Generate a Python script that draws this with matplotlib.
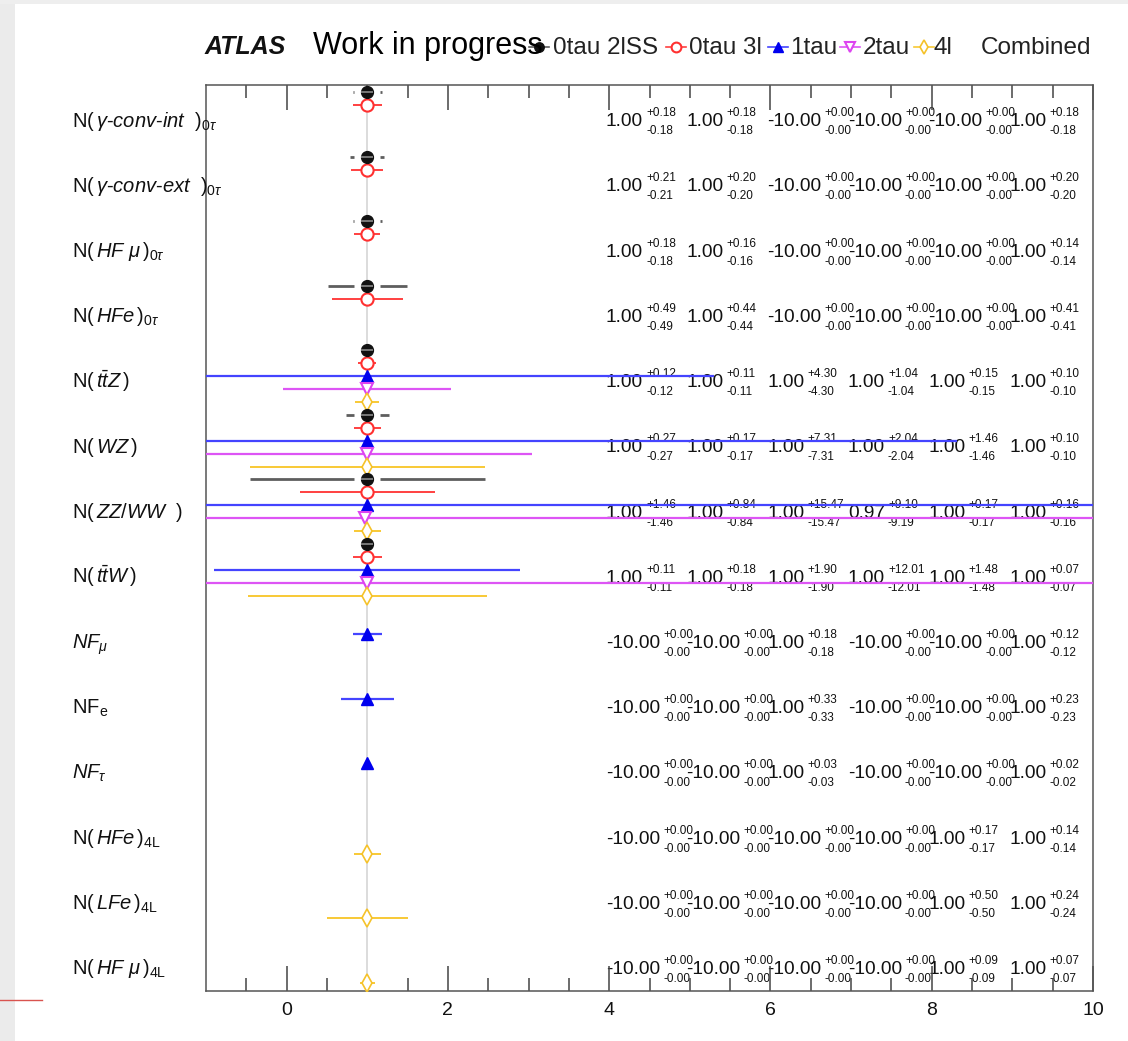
import matplotlib
matplotlib.use("Agg")
import matplotlib.pyplot as plt
from matplotlib.transforms import offset_copy, blended_transform_factory
from matplotlib.lines import Line2D
from matplotlib.patches import Rectangle
import numpy as np

plt.rcParams['font.family'] = ['Liberation Sans', 'DejaVu Sans']
plt.rcParams['mathtext.fontset'] = 'custom'
plt.rcParams['mathtext.rm'] = 'Liberation Sans'
plt.rcParams['mathtext.it'] = 'Liberation Sans:italic'
plt.rcParams['mathtext.bf'] = 'Liberation Sans:bold'
plt.rcParams['mathtext.sf'] = 'Liberation Sans'

# ---------------- data ----------------
parameters = [
    r"$\mathrm{N}(\,\mathit{\gamma}\text{-}\mathit{conv}\text{-}\mathit{int}\ \ )_{0\tau}$",
    r"$\mathrm{N}(\,\mathit{\gamma}\text{-}\mathit{conv}\text{-}\mathit{ext}\ \ )_{0\tau}$",
    r"$\mathrm{N}(\,\mathit{HF\ \mu}\,)_{0\tau}$",
    r"$\mathrm{N}(\,\mathit{HFe}\,)_{0\tau}$",
    r"$\mathrm{N}(\,\mathit{t\bar{t}Z}\,)$",
    r"$\mathrm{N}(\,\mathit{WZ}\,)$",
    r"$\mathrm{N}(\,\mathit{ZZ/WW}\ \ )$",
    r"$\mathrm{N}(\,\mathit{t\bar{t}W}\,)$",
    r"$\mathit{NF}_{\mu}$",
    r"$\mathrm{NF}_{\mathrm{e}}$",
    r"$\mathit{NF}_{\tau}$",
    r"$\mathrm{N}(\,\mathit{HFe}\,)_{\mathrm{4L}}$",
    r"$\mathrm{N}(\,\mathit{LFe}\,)_{\mathrm{4L}}$",
    r"$\mathrm{N}(\,\mathit{HF\ \mu}\,)_{\mathrm{4L}}$",
]

channels = ["0tau 2lSS", "0tau 3l", "1tau", "2tau", "4l", "Combined"]

# fitted values (-10 = parameter not floated in that fit)
nf_0tau_2lss = [1.00, 1.00, 1.00, 1.00, 1.00, 1.00, 1.00, 1.00, -10, -10, -10, -10, -10, -10]
up_0tau_2lss = [0.18, 0.21, 0.18, 0.49, 0.12, 0.27, 1.46, 0.11, 0.00, 0.00, 0.00, 0.00, 0.00, 0.00]
dn_0tau_2lss = [0.18, 0.21, 0.18, 0.49, 0.12, 0.27, 1.46, 0.11, 0.00, 0.00, 0.00, 0.00, 0.00, 0.00]

nf_0tau_3l = [1.00, 1.00, 1.00, 1.00, 1.00, 1.00, 1.00, 1.00, -10, -10, -10, -10, -10, -10]
up_0tau_3l = [0.18, 0.20, 0.16, 0.44, 0.11, 0.17, 0.84, 0.18, 0.00, 0.00, 0.00, 0.00, 0.00, 0.00]
dn_0tau_3l = [0.18, 0.20, 0.16, 0.44, 0.11, 0.17, 0.84, 0.18, 0.00, 0.00, 0.00, 0.00, 0.00, 0.00]

nf_1tau = [-10, -10, -10, -10, 1.00, 1.00, 1.00, 1.00, 1.00, 1.00, 1.00, -10, -10, -10]
up_1tau = [0.00, 0.00, 0.00, 0.00, 4.30, 7.31, 15.47, 1.90, 0.18, 0.33, 0.03, 0.00, 0.00, 0.00]
dn_1tau = [0.00, 0.00, 0.00, 0.00, 4.30, 7.31, 15.47, 1.90, 0.18, 0.33, 0.03, 0.00, 0.00, 0.00]

nf_2tau = [-10, -10, -10, -10, 1.00, 1.00, 0.97, 1.00, -10, -10, -10, -10, -10, -10]
up_2tau = [0.00, 0.00, 0.00, 0.00, 1.04, 2.04, 9.10, 12.01, 0.00, 0.00, 0.00, 0.00, 0.00, 0.00]
dn_2tau = [0.00, 0.00, 0.00, 0.00, 1.04, 2.04, 9.19, 12.01, 0.00, 0.00, 0.00, 0.00, 0.00, 0.00]

nf_4l = [-10, -10, -10, -10, 1.00, 1.00, 1.00, 1.00, -10, -10, -10, 1.00, 1.00, 1.00]
up_4l = [0.00, 0.00, 0.00, 0.00, 0.15, 1.46, 0.17, 1.48, 0.00, 0.00, 0.00, 0.17, 0.50, 0.09]
dn_4l = [0.00, 0.00, 0.00, 0.00, 0.15, 1.46, 0.17, 1.48, 0.00, 0.00, 0.00, 0.17, 0.50, 0.09]

nf_comb = [1.00] * 14
up_comb = [0.18, 0.20, 0.14, 0.41, 0.10, 0.10, 0.16, 0.07, 0.12, 0.23, 0.02, 0.14, 0.24, 0.07]
dn_comb = [0.18, 0.20, 0.14, 0.41, 0.10, 0.10, 0.16, 0.07, 0.12, 0.23, 0.02, 0.14, 0.24, 0.07]

xticks_major = [0, 2, 4, 6, 8, 10]

# ---------------- styles ----------------
styles = [
    dict(marker='o', mfc='#111111', mec='#111111', ms=8.5, mew=1.0, ecolor='#5e5e5e', elw=2.0),
    dict(marker='o', mfc='white', mec='#ff3030', ms=8.8, mew=1.5, ecolor='#ff4040', elw=1.4),
    dict(marker='^', mfc='#0000ee', mec='#0000ee', ms=8.8, mew=1.0, ecolor='#4444ff', elw=1.6),
    dict(marker='v', mfc='white', mec='#dd44f0', ms=9.2, mew=1.5, ecolor='#dd55f5', elw=1.6),
    dict(marker='d', mfc='white', mec='#f5c22a', ms=8.8, mew=1.2, ecolor='#f8c935', elw=1.4),
]
series = [
    (nf_0tau_2lss, up_0tau_2lss, dn_0tau_2lss),
    (nf_0tau_3l, up_0tau_3l, dn_0tau_3l),
    (nf_1tau, up_1tau, dn_1tau),
    (nf_2tau, up_2tau, dn_2tau),
    (nf_4l, up_4l, dn_4l),
    (nf_comb, up_comb, dn_comb),
]

W, H = 1128, 1041
fig = plt.figure(figsize=(W / 100, H / 100), dpi=100)
fig.patch.set_facecolor('white')

# slide decoration around the plot
fig.add_artist(Rectangle((0, 0), 15 / W, 1, transform=fig.transFigure,
                         facecolor='#ebebeb', edgecolor='none', zorder=0))
fig.add_artist(Rectangle((0, 1 - 4 / H), 1, 4 / H, transform=fig.transFigure,
                         facecolor='#eeeeee', edgecolor='none', zorder=0))
fig.add_artist(Line2D([0, 42 / W], [1 - 1000 / H] * 2, transform=fig.transFigure,
                      color='#d9534f', lw=1.0))

ax = fig.add_axes([206 / W, 1 - 991 / H, (1093 - 206) / W, (991 - 85) / H])
ax.set_xlim(-1, 10)
ax.set_ylim(13.93, -0.116)
ax.set_facecolor('none')

rows = np.arange(len(parameters))
step = 0.2  # vertical spacing between channels within one parameter row

ax.axvline(1.0, color='#d6d6d6', lw=1.2, zorder=0.5)

# first channel: filled markers with error bars that leave a gap round the marker
v0 = np.array(nf_0tau_2lss, dtype=float)
u0 = np.array(up_0tau_2lss, dtype=float)
d0 = np.array(dn_0tau_2lss, dtype=float)
gap = 0.16
y0 = rows + 0 * step
st = styles[0]
left_mask = d0 > gap
right_mask = u0 > gap
ax.hlines(y0[left_mask], (v0 - d0)[left_mask], (v0 - gap)[left_mask],
          color=st['ecolor'], lw=st['elw'], zorder=3)
ax.hlines(y0[right_mask], (v0 + gap)[right_mask], (v0 + u0)[right_mask],
          color=st['ecolor'], lw=st['elw'], zorder=3)
ax.plot(v0, y0, ls='none', marker=st['marker'], ms=st['ms'], mfc=st['mfc'],
        mec=st['mec'], mew=st['mew'], zorder=4)
ax.plot(v0, y0, ls='none', marker='_', ms=st['ms'] * 0.95, mew=1.2,
        color='#8a8a8a', zorder=4.5)

# remaining channels
for j in range(1, 5):
    v, u, d = series[j]
    st = styles[j]
    ax.errorbar(v, rows + j * step, xerr=[d, u], fmt=st['marker'], ms=st['ms'],
                mfc=st['mfc'], mec=st['mec'], mew=st['mew'], ecolor=st['ecolor'],
                elinewidth=st['elw'], capsize=0, zorder=3 + j * 0.1)

# axes cosmetics
ax.set_yticks([])
ax.set_xticks(xticks_major)
ax.set_xticks([x for x in np.arange(-0.5, 10, 0.5) if x not in xticks_major], minor=True)
ax.tick_params(axis='x', which='both', direction='in', top=True, bottom=True,
               color='#444444', width=1.1, labelsize=14, pad=8, labelcolor='#111111')
ax.tick_params(axis='x', which='major', length=18)
ax.tick_params(axis='x', which='minor', length=9.5)
for sp in ax.spines.values():
    sp.set_color('#555555')
    sp.set_linewidth(1.1)

# parameter names and value tables
label_tr = blended_transform_factory(fig.transFigure, ax.transData)
renderer = fig.canvas.get_renderer()

def text_row(i):
    return 0.42 + 1.011 * i

for i, name in enumerate(parameters):
    ax.text(72 / W, text_row(i) + 0.11, name, transform=label_tr, fontsize=14.5,
            ha='left', va='baseline', color='#111111')

col_x = [3.96 + k for k in range(len(channels))]
for k, (v, u, d) in enumerate(series):
    for i in range(len(parameters)):
        yb = text_row(i) + 0.104
        main = ax.text(col_x[k], yb, f"{v[i]:.2f}", fontsize=13.8, ha='left',
                       va='baseline', color='#111111', zorder=1)
        w = main.get_window_extent(renderer).width
        tr_up = offset_copy(ax.transData, fig=fig, x=w + 3, y=10, units='dots')
        tr_dn = offset_copy(ax.transData, fig=fig, x=w + 3, y=-8, units='dots')
        ax.text(col_x[k], yb, f"+{u[i]:.2f}", transform=tr_up, fontsize=8.5,
                ha='left', va='baseline', color='#111111', zorder=1)
        ax.text(col_x[k], yb, f"-{d[i]:.2f}", transform=tr_dn, fontsize=8.5,
                ha='left', va='baseline', color='#111111', zorder=1)

# header: experiment tag and legend row
base = 1 - 54 / H
fig.text(205 / W, base, "ATLAS", fontsize=18, fontweight='bold', fontstyle='italic',
         color='#111111', va='baseline')
fig.text(313 / W, base, "Work in progress", fontsize=22, color='#000000', va='baseline')

legend_marker_x = [539, 676, 778, 850, 924, None]
legend_text_x = [553, 689, 790, 863, 934, 981]
ym = 1 - 47 / H
for k, name in enumerate(channels):
    mx = legend_marker_x[k]
    if mx is not None:
        st = styles[k]
        fig.add_artist(Line2D([(mx - 10) / W, (mx + 10) / W], [ym, ym],
                              transform=fig.transFigure, color=st['ecolor'], lw=1.2))
        fig.add_artist(Line2D([mx / W], [ym], transform=fig.transFigure, ls='none',
                              marker=st['marker'], ms=st['ms'] * 0.8, mfc=st['mfc'],
                              mec=st['mec'], mew=st['mew']))
    fig.text(legend_text_x[k] / W, base, name, fontsize=17.5, color='#222222',
             va='baseline')

fig.savefig("out.png", dpi=100)
